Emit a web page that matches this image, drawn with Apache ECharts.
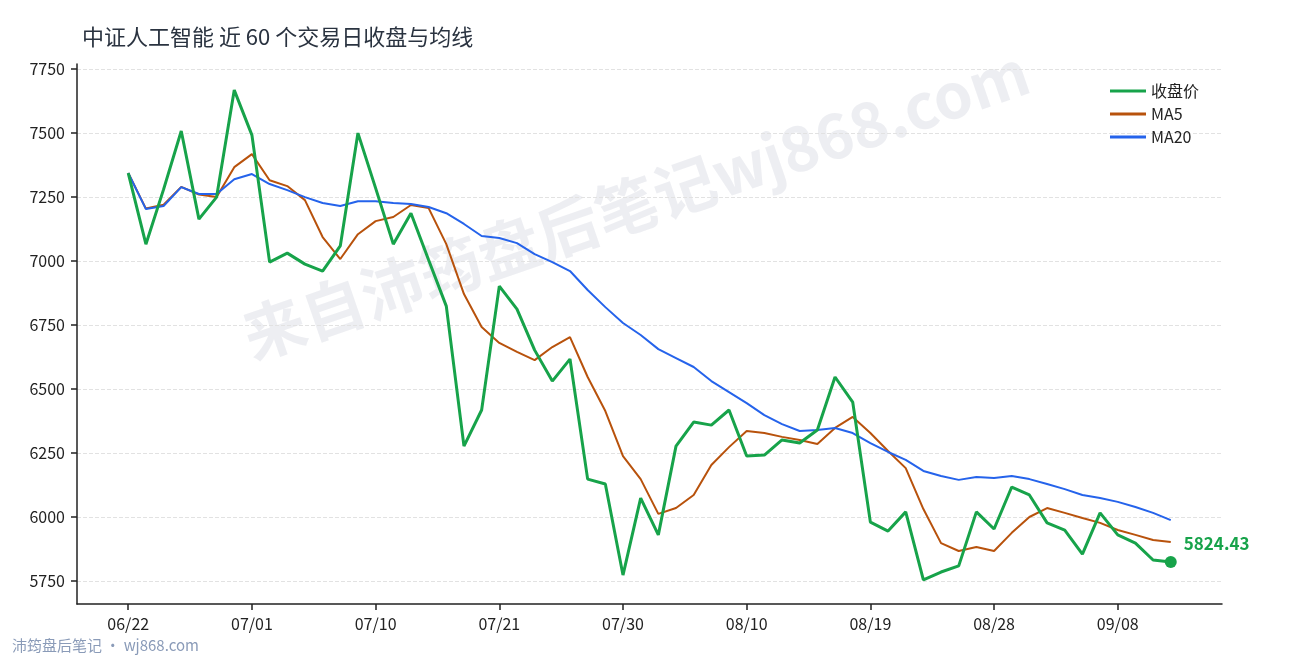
<!DOCTYPE html>
<html><head><meta charset="utf-8">
<script src="https://cdn.jsdelivr.net/npm/echarts@6/dist/echarts.min.js"></script>
<style>html,body{margin:0;padding:0;background:#fff}#c{width:1290px;height:660px}</style>
</head><body><div id="c"></div>
<script>
const dates = ["06/22","06/23","06/24","06/25","06/26","06/29","06/30","07/01","07/02","07/03","07/06","07/07","07/08","07/09","07/10","07/13","07/14","07/15","07/16","07/17","07/20","07/21","07/22","07/23","07/24","07/27","07/28","07/29","07/30","07/31","08/03","08/04","08/05","08/06","08/07","08/10","08/11","08/12","08/13","08/14","08/17","08/18","08/19","08/20","08/21","08/24","08/25","08/26","08/27","08/28","08/31","09/01","09/02","09/03","09/04","09/07","09/08","09/09","09/10","09/11"];
const closeVals = [7344,7066,7280,7508,7164,7250,7668,7492,6996,7031,6988,6961,7059,7500,7285,7066,7187,7004,6824,6277,6418,6902,6812,6652,6531,6617,6148,6129,5773,6074,5930,6277,6371,6359,6418,6238,6242,6301,6289,6340,6547,6449,5980,5945,6020,5754,5785,5809,6020,5953,6117,6086,5977,5949,5855,6016,5930,5898,5832,5824.43];
const ma5Vals = [7344,7205,7220,7290,7260,7250,7367,7418,7316,7293,7238,7094,7008,7105,7156,7172,7219,7207,7066,6871,6742,6680,6645,6613,6664,6703,6547,6414,6238,6148,6012,6035,6086,6203,6273,6336,6328,6313,6301,6285,6348,6391,6328,6258,6191,6031,5898,5867,5883,5867,5938,6000,6035,6016,5996,5977,5949,5930,5910,5902];
const ma20Vals = [7344,7203,7215,7289,7262,7262,7320,7340,7301,7277,7250,7227,7215,7234,7234,7227,7223,7211,7187,7145,7098,7090,7070,7027,6996,6961,6887,6820,6758,6711,6656,6621,6586,6531,6488,6445,6398,6363,6336,6340,6348,6328,6289,6254,6223,6180,6160,6145,6156,6152,6160,6148,6129,6109,6086,6074,6059,6039,6016,5988];
const xTicks = [0,7,14,21,28,35,42,49,56];
const yTicks = [5750,6000,6250,6500,6750,7000,7250,7500,7750];
const pts = a => a.map((v,i)=>[i,v]);
const last = closeVals.length-1;
const font = "'Noto Sans CJK SC','Noto Sans',sans-serif";
const chart = echarts.init(document.getElementById('c'));
chart.setOption({
  animation:false,
  textStyle:{fontFamily:font},
  title:{text:'中证人工智能 近 60 个交易日收盘与均线',left:77,top:21,textStyle:{fontSize:22,fontWeight:'normal',color:'#2a3340',fontFamily:font}},
  grid:{left:77,right:68,top:64,bottom:56},
  legend:{right:86,top:78,orient:'vertical',itemGap:7,itemWidth:36,itemHeight:3,icon:'rect',textStyle:{fontSize:16,color:'#222'},data:['收盘价','MA5','MA20']},
  graphic:[
    {type:'text',rotation:Math.PI*19/180,style:{text:'来自沛筠盘后笔记wj868.com',font:"bold 62px 'Noto Sans CJK SC'",fill:'rgba(190,195,210,0.28)'},left:235,top:40},
    {type:'text',left:12,top:638,style:{text:'沛筠盘后笔记 · wj868.com',font:"15px 'Noto Sans CJK SC'",fill:'#8a9bb8'}}
  ],
  xAxis:{type:'value',min:-2.9,max:last+2.9,splitLine:{show:false},
    axisLine:{lineStyle:{color:'#222',width:1.5}},
    axisTick:{customValues:xTicks,length:6,lineStyle:{color:'#222',width:1.5}},
    axisLabel:{customValues:xTicks,formatter:v=>dates[v],fontSize:16,color:'#222',margin:12}},
  yAxis:{type:'value',min:5660,max:7770,
    axisLine:{show:true,onZero:false,lineStyle:{color:'#222',width:1.5}},
    axisTick:{show:true,customValues:yTicks,length:6,lineStyle:{color:'#222',width:1.5}},
    axisLabel:{customValues:yTicks,formatter:v=>String(v),fontSize:16,color:'#222',margin:12},
    splitLine:{show:true,lineStyle:{type:'dashed',color:'#e2e2e2'}}},
  series:[
    {name:'收盘价',type:'line',data:pts(closeVals),symbol:'none',lineStyle:{width:3,color:'#17a34a'},itemStyle:{color:'#17a34a'},z:5,
     markPoint:{symbol:'circle',symbolSize:12,data:[{coord:[last,closeVals[last]],value:closeVals[last]}],itemStyle:{color:'#17a34a'},
       label:{show:true,position:'right',offset:[2,-18],formatter:'5824.43',color:'#17a34a',fontSize:17,fontWeight:'bold'}}},
    {name:'MA5',type:'line',data:pts(ma5Vals),symbol:'none',lineStyle:{width:2,color:'#b8520c'},itemStyle:{color:'#b8520c'},z:3},
    {name:'MA20',type:'line',data:pts(ma20Vals),symbol:'none',lineStyle:{width:2,color:'#2563eb'},itemStyle:{color:'#2563eb'},z:3}
  ]
});
</script></body></html>
